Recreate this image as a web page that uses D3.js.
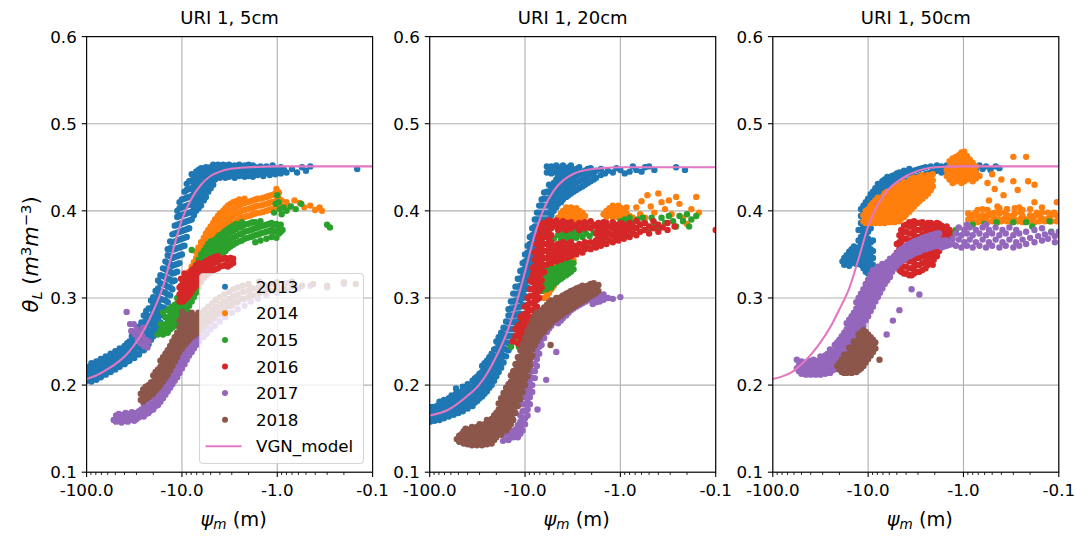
<!DOCTYPE html>
<html>
<head>
<meta charset="utf-8">
<script src="https://cdn.jsdelivr.net/npm/d3@7"></script>
<style>
html,body{margin:0;padding:0;background:#fff;}
svg{display:block;font-family:"DejaVu Sans",sans-serif;}
</style>
</head>
<body>
<svg id="chart" width="1077" height="540"></svg>
<script>
// ---- series definitions ----
const years = ["2013", "2014", "2015", "2016", "2017", "2018"];
const yearColors = ["#1f77b4", "#ff7f0e", "#2ca02c", "#d62728", "#9467bd", "#8c564b"];
const modelLabel = "VGN_model";
const modelColor = "#e377c2";
const panelTitles = ["URI 1, 5cm", "URI 1, 20cm", "URI 1, 50cm"];
const xTickValues = [-100, -10, -1, -0.1];
const yTickValues = [0.1, 0.2, 0.3, 0.4, 0.5, 0.6];

// ---- observations, grouped by matric potential: [psi_m (m), [theta_L, ...]] ----
// 5 cm depth
const uri5_2013 = [[-99,[.205,.212,.219]],[-94,[.207,.214,.221]],[-89,[.204,.211,.218,.225]],[-84,[.208,.215,.222]],[-79,[.206,.213,.220,.227]],[-75,[.210,.217,.224]],[-71,[.209,.216,.223,.230]],[-67,[.213,.220,.227]],[-63,[.212,.219,.226,.233]],[-59,[.215,.222,.229]],[-56,[.215,.222,.229,.236]],[-53,[.218,.225,.232]],[-50,[.218,.225,.232,.239]],[-47,[.221,.228,.235]],[-45,[.221,.228,.235,.242]],[-42,[.225,.232,.239]],[-40,[.224,.231,.238,.245]],[-37.5,[.227,.234,.241,.248]],[-35.5,[.228,.235,.242,.250]],[-33.5,[.232,.240,.248,.256]],[-31.6,[.231,.238,.245,.252,.259]],[-30,[.236,.244,.252,.261]],[-28.2,[.235,.243,.251,.259,.267]],[-26.6,[.240,.248,.256,.264,.272]],[-25.1,[.240,.248,.256,.264,.272,.280]],[-23.7,[.245,.253,.261,.269,.277,.285]],[-22.4,[.247,.255,.263,.271,.279,.288]],[-21.1,[.252,.261,.270,.279,.288,.297]],[-20,[.256,.265,.274,.283,.292,.301]],[-18.9,[.262,.271,.280,.289,.298,.308]],[-17.8,[.266,.275,.284,.293,.302,.311,.320]],[-16.8,[.272,.281,.290,.299,.308,.317,.326]],[-15.8,[.280,.289,.298,.307,.316,.325,.334]],[-14.9,[.288,.297,.306,.315,.324,.333,.342]],[-14.1,[.295,.304,.313,.322,.331,.340,.349,.356]],[-13.3,[.303,.312,.321,.330,.339,.348,.357,.365]],[-12.6,[.310,.319,.328,.337,.346,.355,.364,.373]],[-11.9,[.320,.329,.338,.347,.356,.365,.374,.383]],[-11.2,[.330,.339,.348,.357,.366,.375,.384,.393,.400]],[-10.6,[.340,.349,.358,.367,.376,.385,.394,.403,.410]],[-10,[.350,.359,.368,.377,.386,.395,.404,.413]],[-9.4,[.360,.369,.378,.387,.396,.405,.414,.422]],[-8.9,[.370,.379,.388,.397,.406,.415,.424,.431]],[-8.4,[.380,.389,.398,.407,.416,.425,.434]],[-7.9,[.390,.399,.408,.417,.426,.435,.442]],[-7.5,[.395,.404,.413,.422,.431,.440]],[-7.1,[.400,.409,.418,.427,.436,.445]],[-6.7,[.403,.412,.421,.430,.439,.447]],[-6.3,[.406,.415,.424,.433,.442,.449]],[-5.9,[.412,.421,.430,.439,.447]],[-5.6,[.416,.425,.434,.442,.450]],[-5.3,[.422,.431,.440,.448]],[-5.0,[.426,.434,.442,.450]],[-4.7,[.430,.438,.446,.453]],[-4.5,[.436,.444,.451]],[-4.2,[.439,.447,.453]],[-4.0,[.438,.445,.452]],[-3.7,[.440,.447,.453]],[-3.5,[.438,.445,.452]],[-3.3,[.441,.448]],[-3.2,[.439,.446,.453]],[-3.0,[.442,.449]],[-2.8,[.438,.445,.452]],[-2.65,[.441,.448]],[-2.5,[.440,.447,.453]],[-2.35,[.443,.450]],[-2.2,[.439,.446,.452]],[-2.1,[.442,.449]],[-2.0,[.440,.447,.453]],[-1.9,[.443,.450]],[-1.8,[.439,.446,.452]],[-1.7,[.443,.450]],[-1.6,[.441,.448]],[-1.5,[.444,.451]],[-1.4,[.440,.447]],[-1.3,[.444,.451]],[-1.2,[.441,.448]],[-1.12,[.445,.452]],[-1.05,[.442,.449]],[-0.98,[.446]],[-0.92,[.443,.450]],[-0.85,[.447]],[-0.8,[.444]],[-0.7,[.448]],[-0.62,[.444]],[-0.55,[.450]],[-0.5,[.446]],[-0.45,[.451]],[-0.145,[.448]]];
const uri5_2014 = [[-10,[.300,.308]],[-9.4,[.304,.312,.320]],[-8.9,[.308,.316,.324]],[-8.4,[.314,.322,.330]],[-7.9,[.320,.328,.336]],[-7.5,[.325,.333,.341]],[-7.1,[.330,.338,.346,.353]],[-6.7,[.335,.343,.351,.358]],[-6.3,[.340,.348,.356,.364]],[-5.9,[.345,.353,.361,.369]],[-5.6,[.350,.358,.366,.374]],[-5.3,[.354,.362,.370,.378]],[-5.0,[.358,.366,.374,.382]],[-4.7,[.362,.370,.378,.386]],[-4.5,[.366,.374,.382,.390]],[-4.2,[.370,.378,.386,.394]],[-4.0,[.373,.381,.389,.397]],[-3.7,[.376,.384,.392,.400]],[-3.5,[.379,.387,.395,.403]],[-3.3,[.382,.390,.398,.406]],[-3.1,[.384,.392,.400,.408]],[-2.9,[.386,.394,.402,.410]],[-2.7,[.388,.396,.404,.411]],[-2.5,[.390,.398,.406,.413]],[-2.35,[.392,.400,.408]],[-2.2,[.393,.401,.409,.414]],[-2.05,[.394,.402,.410]],[-1.9,[.395,.403,.411]],[-1.8,[.396,.404,.412]],[-1.7,[.397,.405,.413]],[-1.6,[.398,.406,.414]],[-1.5,[.398,.406,.414]],[-1.4,[.399,.407,.415]],[-1.3,[.400,.408,.416]],[-1.22,[.401,.409,.417]],[-1.15,[.402,.410,.418]],[-1.08,[.402,.410,.419]],[-1.02,[.404,.412,.420,.425]],[-0.96,[.406,.414,.421]],[-0.9,[.405,.412]],[-0.8,[.410]],[-0.75,[.405]],[-0.66,[.412]],[-0.58,[.409]],[-0.52,[.404]],[-0.45,[.406]],[-0.4,[.401]],[-0.36,[.404]],[-0.34,[.400]]];
const uri5_2015 = [[-18,[.258]],[-16.8,[.262,.270]],[-15.8,[.258,.266,.283]],[-14.9,[.262,.270,.278]],[-14.1,[.260,.268,.276,.286]],[-13.3,[.264,.272,.280,.288]],[-12.6,[.266,.274,.282,.290]],[-11.9,[.268,.276,.284,.292]],[-11.2,[.270,.278,.286,.294,.300]],[-10.6,[.274,.282,.290,.298]],[-10,[.278,.286,.294,.302]],[-9.4,[.282,.290,.298,.306]],[-8.9,[.286,.294,.302,.310]],[-8.4,[.291,.299,.307,.315]],[-7.9,[.296,.304,.312,.320,.355]],[-7.5,[.301,.309,.317,.325,.333]],[-7.1,[.306,.314,.322,.330,.338]],[-6.7,[.312,.320,.328,.336,.344]],[-6.3,[.318,.326,.334,.342,.350]],[-5.9,[.323,.331,.339,.347,.354]],[-5.6,[.328,.336,.344,.352,.358]],[-5.3,[.332,.340,.348,.356,.362]],[-5.0,[.336,.344,.352,.360,.365]],[-4.7,[.340,.348,.356,.364]],[-4.5,[.343,.351,.359,.367]],[-4.2,[.346,.354,.362,.370]],[-4.0,[.349,.357,.365,.372]],[-3.7,[.352,.360,.368,.375]],[-3.5,[.354,.362,.370,.377]],[-3.3,[.357,.365,.373,.379]],[-3.1,[.359,.367,.375,.381]],[-2.9,[.361,.369,.377,.383]],[-2.7,[.363,.371,.379,.385]],[-2.5,[.365,.373,.381]],[-2.35,[.366,.374,.382,.387]],[-2.2,[.368,.376,.384]],[-2.05,[.369,.377,.385]],[-1.9,[.370,.378,.386]],[-1.8,[.371,.379,.387]],[-1.7,[.364,.372,.380,.387]],[-1.6,[.373,.381]],[-1.5,[.366,.374,.382,.388]],[-1.4,[.375,.383]],[-1.3,[.368,.376,.384]],[-1.22,[.377,.385]],[-1.15,[.370,.378,.386]],[-1.08,[.376,.384,.398]],[-1.04,[.408]],[-1.02,[.369,.377,.385]],[-1.0,[.418]],[-0.97,[.410]],[-0.96,[.374,.382]],[-0.94,[.402]],[-0.92,[.376,.384]],[-0.9,[.396]],[-0.88,[.378]],[-0.86,[.404]],[-0.8,[.400]],[-0.72,[.405]],[-0.64,[.402]],[-0.56,[.408]],[-0.3,[.384]],[-0.28,[.381]]];
const uri5_2016 = [[-10.6,[.296,.304,.312]],[-10.2,[.298,.306,.314,.322]],[-9.8,[.296,.304,.312,.320]],[-9.4,[.298,.306,.314,.322,.328]],[-9.0,[.300,.308,.316,.324]],[-8.6,[.302,.310,.318,.326]],[-8.2,[.305,.313,.321,.329]],[-7.9,[.308,.316,.324,.332]],[-7.5,[.311,.319,.327,.334]],[-7.1,[.314,.322,.330,.337]],[-6.7,[.318,.326,.334,.340]],[-6.3,[.321,.329,.337]],[-5.9,[.324,.332,.340]],[-5.6,[.326,.334,.342]],[-5.3,[.328,.336,.343]],[-5.0,[.330,.338,.345]],[-4.7,[.332,.340,.346]],[-4.5,[.333,.341,.347]],[-4.2,[.334,.342,.348]],[-4.0,[.336,.344]],[-3.7,[.337,.345]],[-3.5,[.338,.346]],[-3.3,[.336,.344]],[-3.1,[.338,.346]],[-2.9,[.340,.345]]];
const uri5_2017 = [[-38,[.284]],[-35,[.270]],[-34,[.262]],[-32,[.270]],[-31,[.258]],[-30,[.264]],[-29,[.252]],[-28,[.260]],[-27,[.248]],[-26,[.256]],[-25.5,[.266]],[-25,[.245]],[-24,[.252]],[-23,[.243]],[-22.5,[.250]],
[-52,[.160]],[-49,[.158,.165]],[-46,[.160,.167]],[-43,[.157,.164]],[-41,[.159,.166]],[-39,[.161,.168]],[-37,[.158,.165]],[-35.5,[.160,.167]],[-33.5,[.162,.169]],[-31.6,[.159,.166]],[-30,[.161,.168]],[-28.2,[.163,.170]],[-26.6,[.165,.172]],[-25.1,[.164,.171,.178]],[-23.7,[.167,.174]],[-22.4,[.168,.175,.182]],[-21.1,[.171,.178]],[-20,[.172,.179,.186]],[-18.9,[.176,.183]],[-17.8,[.177,.184,.191]],[-16.8,[.181,.188,.195]],[-15.8,[.185,.192,.199]],[-14.9,[.189,.196,.203]],[-14.1,[.193,.200,.207]],[-13.3,[.197,.204,.211]],[-12.6,[.201,.208,.215]],[-11.9,[.205,.212,.219]],[-11.2,[.209,.216,.223,.230]],[-10.6,[.214,.221,.228,.235]],[-10,[.219,.226,.233,.240]],[-9.4,[.224,.231,.238,.245]],[-8.9,[.229,.236,.243,.250]],[-8.4,[.234,.241,.248,.255]],[-7.9,[.238,.245,.252,.259]],[-7.5,[.242,.249,.256,.263]],[-7.1,[.246,.253,.260]],
[-6.6,[.250,.258,.266]],[-6,[.255,.263,.271]],[-5.5,[.259,.267,.275]],[-5,[.264,.272,.280]],[-4.5,[.268,.276,.284]],[-4,[.273,.281,.289]],[-3.5,[.278,.286,.294]],[-3,[.283,.291,.299]],[-2.6,[.287,.295,.303]],[-2.2,[.291,.299,.307]],[-1.9,[.296,.304]],[-1.6,[.299,.307]],[-1.3,[.303,.311]],[-1.0,[.306,.314]],[-0.8,[.309,.317]],[-0.6,[.311]],[-0.45,[.314]],[-0.3,[.312]],[-0.2,[.316]]];
const uri5_2018 = [[-27,[.183,.190]],[-25.5,[.181,.188,.195]],[-24,[.184,.191,.198]],[-22.4,[.186,.193,.200]],[-21.1,[.189,.196,.203]],[-20,[.190,.197,.204,.211]],[-18.9,[.194,.201,.208,.215]],[-17.8,[.197,.204,.211,.218]],[-16.8,[.200,.207,.214,.221,.228]],[-15.8,[.204,.211,.218,.225,.232]],[-14.9,[.208,.215,.222,.229,.236]],[-14.1,[.212,.219,.226,.233,.240]],[-13.3,[.217,.224,.231,.238,.245]],[-12.6,[.222,.229,.236,.243,.250]],[-11.9,[.227,.234,.241,.248,.255]],[-11.2,[.232,.239,.246,.253,.260]],[-10.6,[.238,.245,.252,.259,.266,.274]],[-10,[.242,.249,.256,.263,.270,.278,.284]],[-9.4,[.246,.253,.260,.267,.274,.281]],[-8.9,[.249,.256,.263,.270,.277]],[-8.4,[.252,.259,.266,.273,.280]],[-7.9,[.255,.262,.269,.276,.283]],[-7.5,[.257,.264,.271,.278]],[-7.1,[.259,.266,.273,.280]],[-6.7,[.262,.269,.276,.283]],
[-6.3,[.266,.274,.282]],[-5.8,[.270,.278,.286]],[-5.3,[.274,.282,.290]],[-4.8,[.278,.286,.294]],[-4.4,[.282,.290,.298]],[-4.0,[.285,.293,.301]],[-3.6,[.288,.296,.304]],[-3.2,[.291,.299,.307]],[-2.9,[.294,.302,.310]],[-2.6,[.296,.304,.312]],[-2.3,[.299,.307,.314]],[-2.0,[.301,.309,.316]],[-1.8,[.303,.311]],[-1.55,[.305,.313,.319]],[-1.35,[.307,.315]],[-1.15,[.308,.316]],[-1.0,[.310,.318]],[-0.85,[.311]],[-0.7,[.313,.319]],[-0.55,[.314]],[-0.42,[.316]],[-0.3,[.314]],[-0.2,[.318]],[-0.15,[.316]]];

// 20 cm depth
const uri20_2013 = [[-99,[.158,.165,.172]],[-94,[.161,.168,.175]],[-89,[.159,.166,.173]],[-84,[.162,.169,.176]],[-79,[.160,.167,.174,.181]],[-75,[.163,.170,.177]],[-71,[.162,.169,.176,.183]],[-67,[.165,.172,.179]],[-63,[.164,.171,.178,.185]],[-59,[.167,.174,.181,.188]],[-56,[.166,.173,.180,.187]],[-53,[.169,.176,.183,.190,.196]],[-50,[.168,.175,.182,.189]],[-47,[.171,.178,.185,.192]],[-45,[.170,.177,.184,.191,.198]],[-42,[.174,.181,.188,.195]],[-40,[.173,.180,.187,.194,.201]],[-37.5,[.177,.184,.191,.198]],[-35.5,[.176,.183,.190,.197,.205]],[-33.5,[.180,.187,.194,.201,.208]],[-31.6,[.182,.189,.196,.203,.210]],[-30,[.185,.192,.199,.206,.213]],[-28.2,[.187,.194,.201,.208,.215,.222]],[-26.6,[.190,.197,.204,.211,.218,.225]],[-25.1,[.193,.200,.207,.214,.221,.228]],[-23.7,[.197,.204,.211,.218,.225,.232]],[-22.4,[.200,.207,.214,.221,.228,.236]],[-21.1,[.205,.212,.219,.226,.233,.241]],[-20,[.210,.218,.226,.234,.242,.250]],[-18.9,[.215,.223,.231,.239,.247,.255]],[-17.8,[.220,.228,.236,.244,.252,.260]],[-16.8,[.226,.234,.242,.250,.258,.266]],[-15.8,[.233,.241,.249,.257,.265,.273]],[-14.9,[.240,.248,.256,.264,.272,.280,.287]],[-14.1,[.248,.256,.264,.272,.280,.288,.296]],[-13.3,[.256,.264,.272,.280,.288,.296,.305]],[-12.6,[.265,.273,.281,.289,.297,.305,.313]],[-11.9,[.273,.281,.289,.297,.305,.313,.322]],[-11.2,[.282,.290,.298,.306,.314,.322,.331]],[-10.6,[.292,.300,.308,.316,.324,.332,.340]],[-10,[.302,.310,.318,.326,.334,.342,.350]],[-9.4,[.312,.320,.328,.336,.344,.352,.360]],[-8.9,[.322,.330,.338,.346,.354,.362,.370]],[-8.4,[.332,.340,.348,.356,.364,.372,.380]],[-7.9,[.342,.350,.358,.366,.374,.382,.390]],[-7.5,[.350,.358,.366,.374,.382,.390,.398]],[-7.1,[.358,.366,.374,.382,.390,.398,.406]],[-6.7,[.366,.374,.382,.390,.398,.406,.413]],[-6.3,[.374,.382,.390,.398,.406,.414,.421]],[-5.9,[.382,.390,.398,.406,.414,.422,.444,.451]],[-5.6,[.390,.398,.406,.414,.422,.430,.446]],[-5.3,[.395,.403,.411,.419,.427,.443,.451]],[-5.0,[.400,.408,.416,.424,.432,.447]],[-4.7,[.404,.412,.420,.428,.436,.444,.452]],[-4.5,[.408,.416,.424,.432,.440,.448]],[-4.2,[.410,.418,.426,.434,.442,.450]],[-4.0,[.413,.421,.429,.437,.445,.452]],[-3.7,[.416,.424,.432,.440,.448]],[-3.5,[.418,.426,.434,.442,.450]],[-3.3,[.420,.428,.436,.444,.452]],[-3.1,[.422,.430,.438,.446]],[-2.9,[.424,.432,.440,.448]],[-2.7,[.426,.434,.442,.450]],[-2.5,[.428,.436,.444]],[-2.35,[.430,.438,.446]],[-2.2,[.432,.440,.448]],[-2.05,[.434,.442,.449]],[-1.9,[.436,.444]],[-1.8,[.438,.446]],[-1.6,[.441,.448]],[-1.45,[.443]],[-1.35,[.446]],[-1.2,[.444]],[-1.1,[.449]],[-1.0,[.447]],[-0.9,[.443]],[-0.8,[.445]],[-0.74,[.451]],[-0.68,[.447]],[-0.6,[.445]],[-0.55,[.450]],[-0.5,[.451]],[-0.44,[.447]],[-0.26,[.450]],[-0.21,[.447]]];
const uri20_2014 = [[-6.3,[.300,.308]],[-5.9,[.302,.310,.318]],[-5.6,[.306,.314,.322]],[-5.3,[.310,.318,.326,.334]],[-5.0,[.314,.322,.330,.338,.346]],[-4.7,[.318,.326,.334,.342,.349]],[-4.5,[.322,.330,.338,.346,.352,.392]],[-4.2,[.326,.334,.342,.350,.390,.397]],[-4.0,[.330,.338,.346,.352,.393,.400]],[-3.7,[.334,.342,.350,.390,.397,.404]],[-3.5,[.337,.345,.352,.393,.400]],[-3.3,[.340,.348,.390,.397,.404]],[-3.1,[.343,.350,.393,.400]],[-2.9,[.390,.397,.403]],[-2.7,[.393,.400]],[-2.5,[.391,.398]],[-2.35,[.394]],
[-1.5,[.396]],[-1.4,[.393,.400]],[-1.3,[.396,.403]],[-1.2,[.393,.400,.406]],[-1.12,[.396,.403]],[-1.05,[.393,.400,.406]],[-0.98,[.396,.403]],[-0.92,[.393,.400]],[-0.86,[.397,.404]],[-0.8,[.394]],
[-0.74,[.392]],[-0.68,[.404]],[-0.62,[.396]],[-0.6,[.411]],[-0.55,[.392]],[-0.52,[.418]],[-0.48,[.405]],[-0.44,[.398]],[-0.4,[.420]],[-0.37,[.410]],[-0.34,[.402]],[-0.31,[.412]],[-0.29,[.396]],[-0.26,[.416]],[-0.24,[.408]],[-0.22,[.392]],[-0.2,[.385]],[-0.18,[.402]],[-0.16,[.416]],[-0.15,[.398]]];
const uri20_2015 = [[-14,[.244]],[-13,[.250]],[-12.2,[.256]],[-11.6,[.244]],[-11,[.252]],[-10.4,[.258]],[-9.9,[.246]],[-9.5,[.254]],
[-7.1,[.310,.318]],[-6.7,[.308,.316,.324]],[-6.3,[.312,.320,.328]],[-5.9,[.310,.318,.326,.334]],[-5.6,[.314,.322,.330,.338]],[-5.3,[.312,.320,.328,.336]],[-5.0,[.316,.324,.332,.368]],[-4.7,[.318,.326,.334]],[-4.5,[.320,.328,.336,.372]],[-4.2,[.322,.330,.338,.366,.374]],[-4.0,[.324,.332,.340,.370]],[-3.7,[.326,.334,.342,.367,.375]],[-3.5,[.328,.336,.344,.371]],[-3.3,[.330,.338,.368,.376]],[-3.1,[.333,.340,.372]],[-2.9,[.369,.377]],[-2.7,[.373]],[-2.5,[.370,.378]],[-2.3,[.374]],[-2.1,[.371]],[-1.9,[.375]],
[-1.0,[.388]],[-0.95,[.382]],[-0.9,[.390]],[-0.85,[.384]],[-0.8,[.392]],[-0.75,[.386]],[-0.7,[.380]],[-0.66,[.390]],[-0.62,[.384]],[-0.58,[.392]],[-0.55,[.386]],[-0.5,[.380]],[-0.47,[.392]],[-0.44,[.386]],[-0.4,[.380]],[-0.37,[.392]],[-0.34,[.386]],[-0.31,[.394]],[-0.28,[.388]],[-0.26,[.382]],[-0.24,[.394]],[-0.22,[.388]],[-0.2,[.396]],[-0.19,[.382]],[-0.18,[.390]],[-0.16,[.394]]];
const uri20_2016 = [[-13.5,[.250]],[-12.6,[.256,.264]],[-11.9,[.248,.258,.268]],[-11.2,[.246,.254,.262,.270,.278]],[-10.6,[.248,.256,.264,.272,.280]],[-10,[.250,.258,.266,.274,.282,.290]],[-9.4,[.252,.260,.268,.276,.284,.292,.300]],[-8.9,[.262,.270,.278,.286,.294,.302,.310,.320]],[-8.4,[.270,.278,.286,.294,.302,.310,.318,.326,.334]],[-7.9,[.280,.288,.296,.304,.312,.320,.328,.336,.344,.352]],[-7.5,[.290,.298,.306,.314,.322,.330,.338,.346,.354,.362,.370]],[-7.1,[.300,.308,.316,.324,.332,.340,.348,.356,.364,.372,.380]],[-6.7,[.312,.320,.328,.336,.344,.352,.360,.368,.376,.384]],[-6.3,[.330,.338,.346,.354,.362,.370,.378,.386]],[-5.9,[.338,.346,.354,.362,.370,.378,.386]],[-5.6,[.342,.350,.358,.366,.374,.382,.389]],[-5.3,[.340,.348,.356,.364,.372,.380,.388]],[-5.0,[.344,.352,.360,.384]],[-4.7,[.342,.350,.358,.382,.389]],[-4.5,[.346,.354,.362,.378,.386]],[-4.2,[.344,.352,.360,.384]],[-4.0,[.348,.356,.364,.380,.388]],[-3.7,[.346,.354,.362,.378,.386]],[-3.5,[.350,.358,.382]],[-3.3,[.348,.356,.364,.380,.387]],[-3.1,[.352,.360,.384]],[-2.9,[.350,.358,.382]],[-2.7,[.354,.362,.378,.386]],[-2.5,[.352,.360,.384]],[-2.35,[.356,.364,.380,.387]],[-2.2,[.358,.382]],[-2.05,[.356,.364,.380,.388]],[-1.9,[.360,.384]],[-1.8,[.358,.366,.374,.382]],[-1.7,[.362,.370,.378,.386]],[-1.6,[.360,.368,.376,.384]],[-1.5,[.364,.372,.380,.387]],[-1.4,[.362,.370,.378,.386]],[-1.3,[.366,.374,.382]],[-1.2,[.364,.372,.380,.387]],[-1.12,[.368,.376,.384]],[-1.05,[.366,.374,.382]],[-0.98,[.370,.378,.386]],[-0.92,[.368,.376,.384]],[-0.86,[.372,.380]],[-0.8,[.370,.378,.386]],[-0.74,[.374,.382]],[-0.68,[.372,.380,.388]],[-0.62,[.376,.384]],[-0.56,[.378,.386]],[-0.5,[.374,.382]],[-0.45,[.380,.388]],[-0.4,[.376,.384]],[-0.36,[.381]],[-0.32,[.378,.386]],[-0.27,[.382]],[-0.1,[.378]]];
const uri20_2017 = [[-17,[.136]],[-16,[.138,.145]],[-14.9,[.137,.144]],[-14.1,[.140,.147]],[-13.3,[.140,.147]],[-12.6,[.142,.149]],[-11.9,[.140,.147,.154]],[-11.2,[.144,.151,.158,.165]],[-10.6,[.148,.155,.162,.170,.178]],[-10,[.155,.162,.170,.178,.186,.194]],[-9.4,[.165,.172,.180,.188,.196,.204]],[-8.9,[.178,.186,.194,.202,.210]],[-8.4,[.192,.200,.208,.216,.224]],[-7.9,[.208,.216,.224,.232]],[-7.5,[.222,.230,.238,.244]],[-7.4,[.172]],[-7.1,[.236,.244,.250]],[-6.7,[.246,.253]],[-6.3,[.254,.260]],[-6.0,[.206]],[-5.9,[.261,.266]],[-5.6,[.265,.270]],[-5.3,[.268,.273]],[-5.0,[.272,.276]],[-4.7,[.238,.276,.279]],[-4.5,[.271,.278]],[-4.2,[.274,.281]],[-4.0,[.277,.284]],[-3.7,[.280,.287]],[-3.5,[.283,.289]],[-3.3,[.286,.291]],[-3.1,[.288,.293]],[-2.9,[.290,.295]],[-2.7,[.292,.297]],[-2.5,[.294,.299]],[-2.3,[.296,.301]],[-2.1,[.298,.303]],[-1.95,[.293,.300]],[-1.8,[.295,.302]],[-1.65,[.296,.302]],[-1.5,[.298,.304]],[-1.35,[.300]],[-1.2,[.299]],[-1.0,[.301]]];
const uri20_2018 = [[-52,[.138]],[-49,[.135,.142]],[-46,[.137,.144]],[-44,[.133,.140,.147]],[-42,[.136,.143,.150]],[-40,[.132,.139,.146]],[-38,[.135,.142,.149]],[-36,[.131,.138,.145,.152]],[-34,[.134,.141,.148]],[-32,[.131,.138,.145,.152]],[-30,[.134,.141,.148,.155]],[-28.2,[.131,.138,.145,.152]],[-26.6,[.134,.141,.148,.155]],[-25.1,[.132,.139,.146,.153,.160]],[-23.7,[.135,.142,.149,.156]],[-22.4,[.133,.140,.147,.154,.161]],[-21.1,[.137,.144,.151,.158,.165]],[-20,[.140,.147,.154,.161,.168]],[-18.9,[.144,.151,.158,.165,.172,.179]],[-17.8,[.143,.150,.157,.164,.171,.178,.185]],[-16.8,[.149,.156,.163,.170,.177,.184,.191]],[-15.8,[.148,.155,.162,.169,.176,.183,.190,.197]],[-14.9,[.152,.159,.166,.173,.180,.187,.194,.201]],[-14.1,[.155,.162,.169,.176,.183,.190,.197,.204,.211]],[-13.3,[.160,.167,.174,.181,.188,.195,.202,.209,.216]],[-12.6,[.168,.175,.182,.189,.196,.203,.210,.217,.224]],[-11.9,[.176,.183,.190,.197,.204,.211,.218,.225,.232]],[-11.2,[.184,.191,.198,.205,.212,.219,.226,.233,.240]],[-10.6,[.192,.199,.206,.213,.220,.227,.234,.241,.247]],[-10,[.200,.207,.214,.221,.228,.235,.242,.249,.255]],[-9.4,[.210,.217,.224,.231,.238,.245,.252,.259,.262]],[-8.9,[.222,.229,.236,.243,.250,.257,.264,.268]],[-8.4,[.234,.241,.248,.255,.262,.268,.274]],[-7.9,[.246,.253,.260,.267,.274,.279]],[-7.5,[.250,.257,.264,.271,.278,.283]],[-7.1,[.255,.262,.269,.276,.283]],[-6.7,[.259,.266,.273,.280,.286]],[-6.3,[.262,.269,.276,.283,.289]],[-5.9,[.266,.273,.280,.287,.292]],[-5.6,[.268,.275,.282,.289,.295]],[-5.4,[.246]],[-5.3,[.271,.278,.285,.292,.297]],[-5.0,[.274,.281,.288,.295]],[-4.7,[.276,.283,.290,.297,.300]],[-4.5,[.278,.285,.292,.299]],[-4.2,[.280,.287,.294,.301]],[-4.0,[.282,.289,.296,.303]],[-3.7,[.284,.291,.298,.305]],[-3.5,[.286,.293,.300,.306]],[-3.3,[.288,.295,.302,.308]],[-3.1,[.290,.297,.304,.309]],[-2.9,[.292,.299,.306,.311]],[-2.7,[.294,.301,.308,.312]],[-2.5,[.296,.303,.310,.314]],[-2.35,[.298,.305,.312]],[-2.2,[.300,.307,.314]],[-2.05,[.302,.309,.316]],[-1.9,[.304,.311,.317]],[-1.8,[.306,.313]],[-1.7,[.308,.315]]];

// 50 cm depth
const uri50_2013 = [[-18.6,[.342]],[-17.8,[.338,.346]],[-16.8,[.341,.349]],[-15.8,[.337,.345,.353]],[-14.9,[.340,.348,.356]],[-14.1,[.343,.351,.359]],[-13.3,[.339,.347,.355]],[-12.6,[.342,.350,.358,.366,.378]],[-11.9,[.338,.346,.354,.362,.370,.378,.386,.394,.402]],[-11.2,[.334,.342,.350,.358,.366,.374,.382,.390,.398,.406]],[-10.6,[.330,.338,.346,.354,.362,.370,.378,.386,.394,.402,.410]],[-10,[.328,.336,.344,.352,.360,.368,.376,.384,.392,.400,.408,.414]],[-9.4,[.332,.340,.348,.356,.364,.380,.396,.404,.412,.419]],[-8.9,[.338,.346,.354,.366,.390,.400,.408,.416,.422]],[-8.4,[.396,.404,.412,.420,.426]],[-7.9,[.402,.410,.418,.426,.431]],[-7.5,[.406,.414,.422,.430]],[-7.1,[.410,.418,.426,.434]],[-6.7,[.414,.422,.430,.436]],[-6.3,[.418,.426,.434,.439]],[-5.9,[.421,.429,.437]],[-5.6,[.424,.432,.440]],[-5.3,[.426,.434,.441]],[-5.0,[.428,.436,.443]],[-4.7,[.430,.438,.444]],[-4.5,[.431,.439]],[-4.2,[.433,.441,.446]],[-4.0,[.434,.442]],[-3.7,[.435,.443,.448]],[-3.5,[.436,.444]],[-3.3,[.438,.446]],[-3.1,[.439,.447]],[-2.9,[.440,.448]],[-2.7,[.441,.449]],[-2.5,[.442,.450]],[-2.35,[.443]],[-2.2,[.444,.451]],[-2.05,[.445]],[-1.9,[.446,.452]],[-1.8,[.447]],[-1.7,[.444,.451]],[-1.6,[.448]],[-1.5,[.445,.452]],[-1.4,[.449]],[-1.3,[.446,.453]],[-1.2,[.450]],[-1.12,[.447,.454]],[-1.05,[.451]],[-0.98,[.448]],[-0.92,[.452]],[-0.86,[.446]],[-0.8,[.450]],[-0.74,[.447]],[-0.68,[.452]],[-0.63,[.448]],[-0.58,[.451]],[-0.52,[.447]],[-0.46,[.451]],[-0.42,[.449]]];
const uri50_2014 = [[-11.2,[.388,.395]],[-10.6,[.386,.393,.400]],[-10,[.388,.395,.402]],[-9.4,[.386,.393,.400,.406]],[-8.9,[.388,.395,.402,.409]],[-8.4,[.386,.393,.400,.407,.412]],[-7.9,[.388,.395,.402,.409,.415]],[-7.5,[.386,.393,.400,.407,.414]],[-7.1,[.388,.395,.402,.409,.416]],[-6.7,[.386,.393,.400,.407,.414,.420]],[-6.3,[.388,.395,.402,.409,.416,.422]],[-5.9,[.387,.394,.401,.408,.415,.422]],[-5.6,[.389,.396,.403,.410,.417,.424]],[-5.3,[.387,.394,.401,.408,.415,.422,.427]],[-5.0,[.390,.397,.404,.411,.418,.425]],[-4.7,[.388,.395,.402,.409,.416,.423,.430]],[-4.5,[.391,.398,.405,.412,.419,.426]],[-4.2,[.393,.400,.407,.414,.421,.428,.433]],[-4.0,[.396,.403,.410,.417,.424,.431]],[-3.7,[.399,.406,.413,.420,.427,.434]],[-3.5,[.402,.409,.416,.423,.430,.437]],[-3.3,[.405,.412,.419,.426,.433,.438]],[-3.1,[.408,.415,.422,.429,.436]],[-2.9,[.411,.418,.425,.432,.439]],[-2.7,[.414,.421,.428,.435,.441]],[-2.5,[.417,.424,.431,.438]],[-2.35,[.420,.427,.434,.441]],[-2.2,[.424,.431,.438]],[-2.1,[.428,.435,.442]],
[-1.5,[.440,.447]],[-1.4,[.436,.443,.450,.457]],[-1.3,[.432,.439,.446,.453,.460]],[-1.2,[.434,.441,.448,.455,.462]],[-1.12,[.436,.443,.450,.457,.464]],[-1.05,[.432,.439,.446,.453,.460,.467]],[-0.98,[.434,.441,.448,.455,.462,.468]],[-0.92,[.436,.443,.450,.457,.463]],[-0.86,[.438,.445,.452,.459]],[-0.8,[.434,.441,.448,.455]],[-0.74,[.437,.444,.451]],[-0.68,[.440]],
[-0.56,[.432]],[-0.54,[.412]],[-0.5,[.442]],[-0.47,[.425]],[-0.44,[.405]],[-0.4,[.436]],[-0.38,[.418]],[-0.35,[.402]],[-0.3,[.434,.462]],[-0.27,[.424]],[-0.26,[.404]],[-0.22,[.462]],[-0.21,[.434]],[-0.18,[.430,.410]],[-0.105,[.410]],
[-0.89,[.390,.397]],[-0.84,[.393]],[-0.79,[.388,.395]],[-0.75,[.398]],[-0.71,[.387,.394,.401]],[-0.67,[.390]],[-0.63,[.388,.395,.402]],[-0.59,[.391]],[-0.56,[.387,.394,.401]],[-0.53,[.397]],[-0.5,[.388,.395]],[-0.47,[.391,.398]],[-0.44,[.387]],[-0.42,[.390,.397,.403]],[-0.4,[.388]],[-0.37,[.391,.398]],[-0.35,[.388,.395,.402]],[-0.33,[.391]],[-0.31,[.387,.394]],[-0.29,[.390,.397,.403]],[-0.27,[.388]],[-0.25,[.391,.398]],[-0.24,[.387,.394,.401]],[-0.22,[.390]],[-0.2,[.388,.395,.402]],[-0.19,[.391]],[-0.18,[.387,.394]],[-0.17,[.398]],[-0.16,[.388,.395]],[-0.15,[.391,.398,.404]],[-0.14,[.388]],[-0.13,[.391,.398]],[-0.12,[.388,.395]],[-0.112,[.398]],[-0.105,[.388,.395]],[-0.1,[.392]]];
const uri50_2015 = [[-1.75,[.372]],[-1.65,[.368,.376]],[-1.6,[.372,.380]],[-1.55,[.364,.370,.378]],[-1.5,[.374]],[-1.45,[.368,.376]],[-1.4,[.372]],[-1.3,[.375]],[-1.2,[.378]],[-0.8,[.384]],[-0.6,[.385]],[-0.45,[.387]],[-0.3,[.387]],[-0.22,[.387]],[-0.19,[.382]],[-0.125,[.388]],[-0.12,[.376]]];
const uri50_2016 = [[-5.3,[.340,.348]],[-5.0,[.336,.344,.352,.362]],[-4.7,[.332,.340,.348,.356,.364,.372]],[-4.5,[.330,.338,.346,.354,.362,.370,.378]],[-4.2,[.328,.336,.344,.352,.360,.368,.376,.383]],[-4.0,[.328,.336,.344,.352,.360,.368,.376,.384]],[-3.7,[.326,.334,.342,.350,.358,.366,.374,.382,.387]],[-3.5,[.326,.334,.342,.350,.358,.366,.374,.382]],[-3.3,[.328,.336,.344,.352,.360,.368,.376,.384,.388]],[-3.1,[.330,.338,.346,.354,.362,.370,.378,.386]],[-2.9,[.330,.338,.346,.354,.362,.370,.378,.386]],[-2.7,[.332,.340,.348,.356,.364,.372,.380,.387]],[-2.5,[.334,.342,.350,.358,.366,.374,.382]],[-2.35,[.338,.346,.354,.362,.370,.378,.386]],[-2.2,[.340,.348,.356,.364,.372,.380,.386]],[-2.1,[.338]],[-2.05,[.344,.352,.360,.368,.376,.384]],[-1.9,[.348,.350,.356,.364,.372,.380,.386]],[-1.8,[.354,.362,.370,.378,.385]],[-1.7,[.360,.368,.376,.383]],[-1.6,[.364,.372,.380]],[-1.5,[.368,.376,.382]],[-1.4,[.372,.378]]];
const uri50_2017 = [[-56,[.219,.229]],[-53,[.216,.223]],[-50,[.213,.220,.227]],[-47,[.215,.222]],[-45,[.212,.219,.226]],[-42,[.214,.221,.228]],[-40,[.212,.219,.226]],[-37.5,[.215,.222,.229]],[-35.5,[.212,.219,.226]],[-33.5,[.214,.221,.228]],[-31.6,[.212,.219,.226,.233]],[-30,[.214,.221,.228]],[-28.2,[.213,.220,.227,.234]],[-26.6,[.215,.222,.229,.236]],[-25.1,[.214,.221,.228,.235,.241]],[-23.7,[.217,.224,.231,.238]],[-22.4,[.218,.225,.232,.239,.246]],[-21.1,[.221,.228,.235,.242,.249]],[-20,[.224,.231,.238,.245,.252]],[-18.9,[.228,.235,.242,.249,.256]],[-17.8,[.232,.239,.246,.253,.260]],[-16.8,[.236,.243,.250,.257,.264,.271]],[-15.8,[.240,.247,.254,.261,.268,.275]],[-14.9,[.244,.251,.258,.265,.272,.279]],[-14.1,[.248,.255,.262,.269,.276,.283]],[-13.3,[.253,.260,.267,.274,.281,.288,.295]],[-12.6,[.258,.265,.272,.279,.286,.293,.300]],[-11.9,[.263,.270,.277,.284,.291,.298,.305]],[-11.2,[.268,.275,.282,.289,.296,.303,.310]],[-10.6,[.274,.281,.288,.295,.302,.309,.316]],[-10,[.279,.286,.293,.300,.307,.314,.321]],[-9.4,[.285,.292,.299,.306,.313,.320,.327]],[-8.9,[.290,.297,.304,.311,.318,.325,.332]],[-8.4,[.296,.303,.310,.317,.324,.331]],[-7.9,[.301,.308,.315,.322,.329,.336]],[-7.5,[.306,.313,.320,.327,.334]],[-7.1,[.311,.318,.325,.332,.339]],[-6.7,[.316,.323,.330,.337]],[-6.4,[.258]],[-6.3,[.320,.327,.334,.341]],[-5.9,[.324,.331,.338,.345]],[-5.6,[.330,.337,.344]],[-5.5,[.274]],[-5.3,[.334,.341,.348]],[-5.0,[.337,.344,.351]],[-4.7,[.286,.340,.347,.354]],[-4.5,[.342,.349,.356]],[-4.2,[.344,.351,.358]],[-4.0,[.346,.353,.360]],[-3.7,[.348,.355,.362]],[-3.5,[.310,.349,.356,.363]],[-3.3,[.351,.358,.365]],[-3.1,[.352,.359,.366]],[-2.9,[.304,.353,.360,.367]],[-2.7,[.355,.362,.369]],[-2.5,[.356,.363,.370]],[-2.35,[.357,.364,.371]],[-2.2,[.358,.365,.372]],[-2.05,[.359,.366,.373]],[-1.9,[.360,.367,.374]],[-1.8,[.360,.367,.374]],[-1.7,[.358,.365]],[-1.6,[.359,.366]],[-1.5,[.360,.366]],[-1.4,[.361]],[-1.3,[.362,.368]],
[-1.2,[.360,.374]],[-1.12,[.367,.381]],[-1.05,[.358,.372]],[-0.98,[.364,.378]],[-0.92,[.360,.374,.384]],[-0.86,[.367,.381]],[-0.8,[.358,.372]],[-0.74,[.364,.378]],[-0.68,[.360,.374]],[-0.63,[.367,.381]],[-0.58,[.358,.372,.384]],[-0.54,[.364,.378]],[-0.5,[.360,.374]],[-0.46,[.367,.381]],[-0.42,[.358,.372]],[-0.39,[.364,.378]],[-0.36,[.360,.374]],[-0.33,[.367,.381]],[-0.3,[.358,.372]],[-0.28,[.364,.378]],[-0.26,[.360,.374]],[-0.24,[.367]],[-0.22,[.362,.376]],[-0.2,[.369]],[-0.18,[.364,.378]],[-0.165,[.371]],[-0.15,[.366,.380]],[-0.14,[.373]],[-0.13,[.368]],[-0.12,[.375]],[-0.11,[.364,.371]],[-0.1,[.376]]];
const uri50_2018 = [[-21.1,[.222]],[-20,[.218,.225]],[-18.9,[.215,.222,.229]],[-17.8,[.214,.221,.228,.235]],[-16.8,[.214,.221,.228,.235]],[-15.8,[.215,.222,.229,.236,.243]],[-14.9,[.214,.221,.228,.235,.242]],[-14.1,[.216,.223,.230,.237,.244,.250]],[-13.3,[.215,.222,.229,.236,.243,.250]],[-12.6,[.217,.224,.231,.238,.245,.252,.258]],[-11.9,[.219,.226,.233,.240,.247,.254,.260]],[-11.2,[.222,.229,.236,.243,.250,.257,.263]],[-10.6,[.226,.233,.240,.247,.254,.261]],[-10,[.230,.237,.244,.251,.258]],[-9.4,[.234,.241,.248,.255]],[-8.9,[.238,.245,.252]],[-8.4,[.242,.249]],[-7.6,[.229]]];

// ---- fitted van Genuchten retention curves: [psi_m (m), theta_L] ----
const vgn5 = [[-100,0.207],[-79.4,0.211],[-63.1,0.217],[-50.1,0.224],[-39.8,0.233],[-31.6,0.246],[-25.1,0.263],[-20,0.285],[-15.8,0.313],[-12.6,0.352],[-10,0.390],[-7.94,0.414],[-6.31,0.430],[-5.01,0.440],[-3.98,0.445],[-3.16,0.448],[-2.0,0.450],[-1.0,0.451],[-0.1,0.451]];
const vgn20 = [[-100,0.165],[-63.1,0.172],[-39.8,0.188],[-31.6,0.198],[-25.1,0.213],[-20,0.233],[-15.8,0.258],[-12.6,0.290],[-10,0.330],[-7.94,0.372],[-6.31,0.403],[-5.01,0.423],[-3.98,0.435],[-3.16,0.442],[-2.51,0.446],[-1.58,0.449],[-1.0,0.450],[-0.1,0.450]];
const vgn50 = [[-100,0.207],[-79.4,0.210],[-63.1,0.215],[-50.1,0.224],[-39.8,0.235],[-31.6,0.249],[-25.1,0.266],[-20,0.287],[-15.8,0.311],[-12.6,0.345],[-10,0.382],[-7.94,0.407],[-6.31,0.423],[-5.01,0.433],[-3.98,0.440],[-3.16,0.445],[-2.0,0.450],[-1.0,0.451],[-0.1,0.451]];

// expand [psi, [theta...]] rows into individual observations
const points = rows => rows.flatMap(([psi, thetas]) => thetas.map(t => [psi, t]));

const panels = [
  {title: panelTitles[0], series: [uri5_2013, uri5_2014, uri5_2015, uri5_2016, uri5_2017, uri5_2018], model: vgn5, legend: true},
  {title: panelTitles[1], series: [uri20_2013, uri20_2014, uri20_2015, uri20_2016, uri20_2017, uri20_2018], model: vgn20, legend: false},
  {title: panelTitles[2], series: [uri50_2013, uri50_2014, uri50_2015, uri50_2016, uri50_2017, uri50_2018], model: vgn50, legend: false}
];

// ---- layout ----
const panelLeft = [86.6, 429.7, 772.8];
const panelW = 286;
const plotTop = 36.6, plotBottom = 472.2;
const panelH = plotBottom - plotTop;
const fontPx = 16.7;
const majorTick = 4.9, minorTick = 2.8, tickPad = 4.9;
const gridColor = "#b0b0b0";
const dotR = 3.2;

const svg = d3.select("#chart");

// |psi| on a reversed log axis: -100 on the left, -0.1 on the right
const x = d3.scaleLog().domain([100, 0.1]).range([0, panelW]);
const y = d3.scaleLinear().domain([0.1, 0.6]).range([panelH, 0]);
const px = d => x(-d[0]);
const py = d => y(d[1]);

// minor ticks 2..9 within every decade
const minorTicks = [];
[0.1, 1, 10].forEach(base => { for (let k = 2; k <= 9; k++) minorTicks.push(base * k); });

svg.append("defs").append("clipPath").attr("id", "plotClip")
  .append("rect").attr("x", 0).attr("y", 0).attr("width", panelW).attr("height", panelH);

panels.forEach((p, i) => {
  const g = svg.append("g").attr("transform", `translate(${panelLeft[i]},${plotTop})`);

  // grid
  g.append("g").selectAll("line").data(xTickValues).join("line")
    .attr("x1", d => x(-d)).attr("x2", d => x(-d)).attr("y1", 0).attr("y2", panelH)
    .attr("stroke", gridColor).attr("stroke-width", 1.1);
  g.append("g").selectAll("line").data(yTickValues).join("line")
    .attr("x1", 0).attr("x2", panelW).attr("y1", d => y(d)).attr("y2", d => y(d))
    .attr("stroke", gridColor).attr("stroke-width", 1.1);

  // observations, one layer per year
  const clip = g.append("g").attr("clip-path", "url(#plotClip)");
  p.series.forEach((rows, k) => {
    clip.append("g").selectAll("circle").data(points(rows)).join("circle")
      .attr("cx", px).attr("cy", py).attr("r", dotR).attr("fill", yearColors[k]);
  });

  // model curve
  clip.append("path").datum(p.model)
    .attr("d", d3.line().x(px).y(py).curve(d3.curveMonotoneX))
    .attr("fill", "none").attr("stroke", modelColor).attr("stroke-width", 2.1);

  // x axis
  const xAxis = g.append("g").attr("transform", `translate(0,${panelH})`);
  xAxis.selectAll("line.minor").data(minorTicks).join("line").attr("class", "minor")
    .attr("x1", d => x(d)).attr("x2", d => x(d)).attr("y1", 0).attr("y2", minorTick)
    .attr("stroke", "#000").attr("stroke-width", 0.85);
  xAxis.selectAll("line.major").data(xTickValues).join("line").attr("class", "major")
    .attr("x1", d => x(-d)).attr("x2", d => x(-d)).attr("y1", 0).attr("y2", majorTick)
    .attr("stroke", "#000").attr("stroke-width", 1.1);
  xAxis.selectAll("text").data(xTickValues).join("text")
    .attr("x", d => x(-d)).attr("y", majorTick + tickPad + 1).attr("dy", "0.76em")
    .attr("text-anchor", "middle").attr("font-size", fontPx).attr("fill", "#000")
    .text(d => "-" + Math.abs(d).toFixed(1));

  // y axis
  const yAxis = g.append("g");
  yAxis.selectAll("line").data(yTickValues).join("line")
    .attr("x1", -majorTick).attr("x2", 0).attr("y1", d => y(d)).attr("y2", d => y(d))
    .attr("stroke", "#000").attr("stroke-width", 1.1);
  yAxis.selectAll("text").data(yTickValues).join("text")
    .attr("x", -majorTick - tickPad).attr("y", d => y(d)).attr("dy", "0.36em")
    .attr("text-anchor", "end").attr("font-size", fontPx).attr("fill", "#000")
    .text(d => d.toFixed(1));

  // frame
  g.append("rect").attr("width", panelW).attr("height", panelH)
    .attr("fill", "none").attr("stroke", "#000").attr("stroke-width", 1.1);

  // title
  g.append("text").attr("x", panelW / 2).attr("y", -12.2)
    .attr("text-anchor", "middle").attr("font-size", 18).attr("fill", "#000")
    .text(p.title);

  // x label: psi_m (m)
  const xl = g.append("text").attr("x", panelW / 2 + 4).attr("y", 526 - plotTop)
    .attr("text-anchor", "middle").attr("font-size", 19.4).attr("fill", "#000");
  xl.append("tspan").attr("font-style", "italic").text("ψ");
  xl.append("tspan").attr("font-style", "italic").attr("font-size", 13.6).attr("dy", 3.5).text("m");
  xl.append("tspan").attr("dy", -3.5).text(" (m)");

  // legend
  if (p.legend) {
    const lx = 199.5 - panelLeft[i], ly = 273.5 - plotTop;
    const lg = g.append("g").attr("transform", `translate(${lx},${ly})`);
    lg.append("rect").attr("width", 164).attr("height", 190).attr("rx", 3.5)
      .attr("fill", "#fff").attr("fill-opacity", 0.8)
      .attr("stroke", "#cccccc").attr("stroke-opacity", 0.8).attr("stroke-width", 1.1);
    const rowH = 26.6, row0 = 13.2;
    years.forEach((yr, k) => {
      lg.append("circle").attr("cx", 25.5).attr("cy", row0 + k * rowH).attr("r", 3).attr("fill", yearColors[k]);
      lg.append("text").attr("x", 56.5).attr("y", row0 + k * rowH).attr("dy", "0.36em")
        .attr("font-size", fontPx).attr("fill", "#000").text(yr);
    });
    const ry = row0 + 6 * rowH;
    lg.append("line").attr("x1", 6).attr("x2", 42).attr("y1", ry).attr("y2", ry)
      .attr("stroke", modelColor).attr("stroke-width", 2.1);
    lg.append("text").attr("x", 56.5).attr("y", ry).attr("dy", "0.36em")
      .attr("font-size", fontPx).attr("fill", "#000").text(modelLabel);
  }
});

// shared y label: theta_L (m^3 m^-3)
const yl = svg.append("text")
  .attr("transform", `translate(38,${(plotTop + plotBottom) / 2}) rotate(-90)`)
  .attr("text-anchor", "middle").attr("font-size", 21).attr("fill", "#000");
yl.append("tspan").attr("font-style", "italic").text("θ");
yl.append("tspan").attr("font-style", "italic").attr("font-size", 14.7).attr("dy", 3.8).text("L");
yl.append("tspan").attr("dy", -3.8).text(" (");
yl.append("tspan").attr("font-style", "italic").text("m");
yl.append("tspan").attr("font-size", 14.7).attr("dy", -7.5).text("3");
yl.append("tspan").attr("font-style", "italic").attr("dy", 7.5).text("m");
yl.append("tspan").attr("font-size", 14.7).attr("dy", -7.5).text("−3");
yl.append("tspan").attr("dy", 7.5).text(")");
</script>
</body>
</html>
